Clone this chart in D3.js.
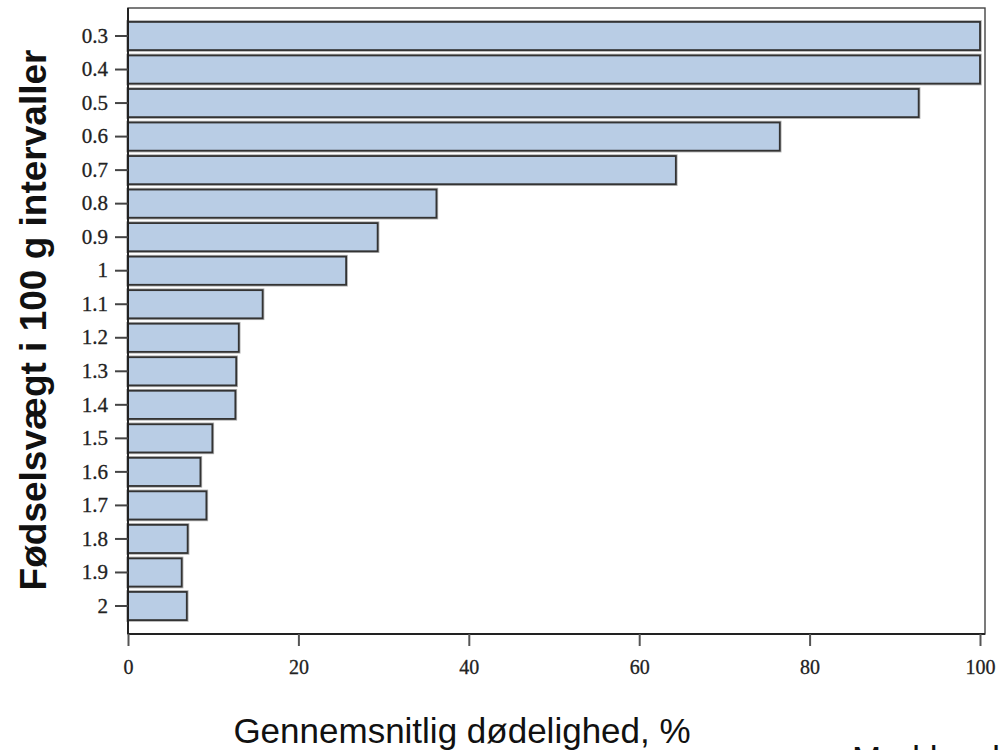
<!DOCTYPE html>
<html>
<head>
<meta charset="utf-8">
<script src="https://cdn.jsdelivr.net/npm/d3@7"></script>
<style>
  html, body { margin: 0; padding: 0; background: #fff; }
  svg { display: block; }
</style>
</head>
<body>
<svg id="chart" width="999" height="750"></svg>
<script>
const categories = ["0.3","0.4","0.5","0.6","0.7","0.8","0.9","1","1.1","1.2","1.3","1.4","1.5","1.6","1.7","1.8","1.9","2"];
const values = [100, 100, 92.8, 76.5, 64.3, 36.2, 29.3, 25.6, 15.8, 13.0, 12.7, 12.6, 9.9, 8.5, 9.2, 7.0, 6.3, 6.9];
const xTicks = [0, 20, 40, 60, 80, 100];
const xTitle = "Gennemsnitlig dødelighed, %";
const yTitle = "Fødselsvægt i 100 g intervaller";
const cornerText = "Med brud";

(function () {
const svg = d3.select("#chart");
const pLeft = 128, pRight = 980, frameRight = 985, pTop = 8, pBottom = 634;

const x = d3.scaleLinear().domain([0, 100]).range([pLeft, pRight]);
const y = d3.scaleBand().domain(categories).range([pTop, pBottom]).paddingInner(0.16).paddingOuter(0.415);

// bars
const bars = svg.append("g");
bars.selectAll("rect.halo").data(categories).join("rect")
  .attr("class", "halo")
  .attr("x", x(0))
  .attr("y", (d) => y(d))
  .attr("width", (d, i) => x(values[i]) - x(0))
  .attr("height", y.bandwidth())
  .attr("fill", "none")
  .attr("stroke", "#b0b0b0")
  .attr("stroke-width", 3.5);
bars.selectAll("rect.bar").data(categories).join("rect")
  .attr("class", "bar")
  .attr("x", x(0))
  .attr("y", (d) => y(d))
  .attr("width", (d, i) => x(values[i]) - x(0))
  .attr("height", y.bandwidth())
  .attr("fill", "#b9cde5")
  .attr("stroke", "#333")
  .attr("stroke-width", 1.8);

// frame
svg.append("rect")
  .attr("x", pLeft).attr("y", pTop)
  .attr("width", frameRight - pLeft).attr("height", pBottom - pTop)
  .attr("fill", "none").attr("stroke", "#444").attr("stroke-width", 1.4);

// x axis
const xAxis = svg.append("g")
  .attr("transform", `translate(0,${pBottom})`)
  .call(d3.axisBottom(x).tickValues(xTicks).tickFormat(d3.format("d")).tickSize(12).tickPadding(14));
xAxis.select(".domain").attr("stroke", "#222").attr("stroke-width", 2).attr("d", `M${pLeft},0H${frameRight}`);
xAxis.selectAll(".tick line").attr("stroke", "#555").attr("stroke-width", 2);
xAxis.selectAll(".tick text")
  .attr("fill", "#222")
  .attr("stroke", "#222").attr("stroke-width", 0.3)
  .style("font-family", "'Liberation Serif', 'Times New Roman', serif")
  .style("font-size", "20px");

// y axis
const yAxis = svg.append("g")
  .attr("transform", `translate(${pLeft},0)`)
  .call(d3.axisLeft(y).tickSize(13).tickPadding(7));
yAxis.select(".domain").attr("stroke", "#222").attr("stroke-width", 2).attr("d", `M0,${pTop}V${pBottom}`);
yAxis.selectAll(".tick line").attr("stroke", "#444").attr("stroke-width", 2);
yAxis.selectAll(".tick text")
  .attr("fill", "#222")
  .attr("stroke", "#222").attr("stroke-width", 0.3)
  .style("font-family", "'Liberation Serif', 'Times New Roman', serif")
  .style("font-size", "21px");

// titles
svg.append("text")
  .attr("x", 462).attr("y", 743)
  .attr("text-anchor", "middle")
  .style("font-family", "'Liberation Sans', Arial, sans-serif")
  .style("font-size", "35px")
  .attr("fill", "#111")
  .text(xTitle);

svg.append("text")
  .attr("transform", "translate(46,320) rotate(-90)")
  .attr("text-anchor", "middle")
  .style("font-family", "'Liberation Sans', Arial, sans-serif")
  .style("font-size", "37px")
  .style("font-weight", "bold")
  .attr("fill", "#111")
  .text(yTitle);

svg.append("text")
  .attr("x", 852).attr("y", 771)
  .style("font-family", "'Liberation Sans', Arial, sans-serif")
  .style("font-size", "35px")
  .attr("fill", "#111")
  .text(cornerText);
})();
</script>
</body>
</html>
